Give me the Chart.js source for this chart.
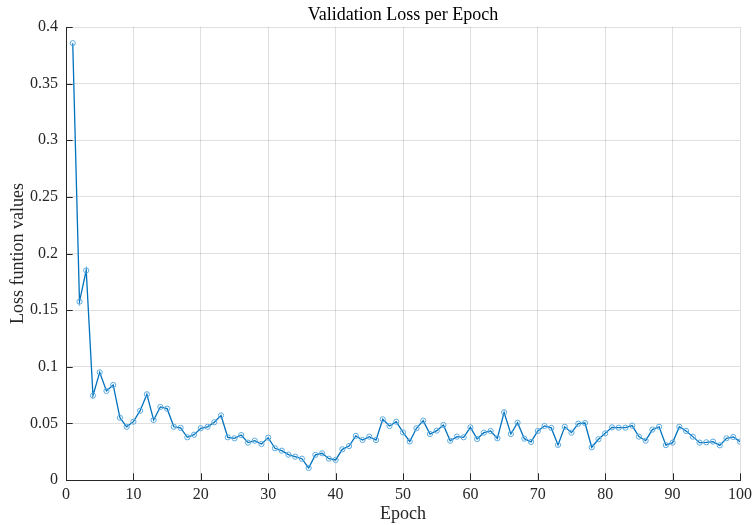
<!DOCTYPE html>
<html>
<head>
<meta charset="utf-8">
<script src="https://cdn.jsdelivr.net/npm/chart.js@4/dist/chart.umd.min.js"></script>
<style>
  html, body { margin: 0; padding: 0; background: #fff; }
  #wrap { width: 753px; height: 525px; }
</style>
</head>
<body>
<div id="wrap"><canvas id="c" width="753" height="525"></canvas></div>
<script>
// Validation loss recorded after each training epoch
const epochs = Array.from({ length: 100 }, (_, i) => i + 1);
const lossValues = [
  0.3857, 0.1575, 0.185, 0.0745, 0.0951, 0.0786, 0.0839, 0.055, 0.047, 0.0515,
  0.0612, 0.0757, 0.053, 0.0645, 0.063, 0.047, 0.046, 0.0377, 0.040, 0.0457,
  0.047, 0.051, 0.057, 0.0377, 0.0368, 0.0397, 0.033, 0.0347, 0.0318, 0.0374,
  0.028, 0.0259, 0.0224, 0.0206, 0.0188, 0.0106, 0.0222, 0.0236, 0.0188, 0.0177,
  0.0271, 0.030, 0.039, 0.0353, 0.0383, 0.0353, 0.0536, 0.0477, 0.0515, 0.042,
  0.034, 0.0457, 0.0524, 0.0406, 0.0436, 0.0486, 0.0347, 0.0383, 0.0377, 0.0465,
  0.0362, 0.0418, 0.0433, 0.0368, 0.0598, 0.0406, 0.0506, 0.0365, 0.0336, 0.0433,
  0.0477, 0.046, 0.031, 0.047, 0.0418, 0.0497, 0.0503, 0.0289, 0.036, 0.0412,
  0.0465, 0.0462, 0.0462, 0.048, 0.0383, 0.0347, 0.0445, 0.047, 0.0308, 0.033,
  0.047, 0.0433, 0.0383, 0.033, 0.0333, 0.0339, 0.0306, 0.0368, 0.038, 0.0339
];
const xTicks = [0, 10, 20, 30, 40, 50, 60, 70, 80, 90, 100];
const yTicks = [0, 0.05, 0.1, 0.15, 0.2, 0.25, 0.3, 0.35, 0.4];

const FONT = "'Liberation Serif', 'DejaVu Serif', serif";
const AXIS = '#262626';
const GRID = 'rgba(38,38,38,0.15)';

// MATLAB-style inward tick marks on the left and bottom axes
const inwardTicks = {
  id: 'inwardTicks',
  afterDatasetsDraw(chart) {
    const { ctx, chartArea, scales } = chart;
    const len = 6.7;
    ctx.save();
    ctx.strokeStyle = AXIS;
    ctx.lineWidth = 1;
    ctx.beginPath();
    scales.x.ticks.forEach(t => {
      const px = Math.round(scales.x.getPixelForValue(t.value)) + 0.5;
      ctx.moveTo(px, chartArea.bottom);
      ctx.lineTo(px, chartArea.bottom - len);
    });
    scales.y.ticks.forEach(t => {
      const py = Math.round(scales.y.getPixelForValue(t.value)) + 0.5;
      ctx.moveTo(chartArea.left, py);
      ctx.lineTo(chartArea.left + len, py);
    });
    ctx.stroke();
    ctx.restore();
  }
};

new Chart(document.getElementById('c'), {
  type: 'line',
  data: {
    datasets: [{
      data: epochs.map((e, i) => ({ x: e, y: lossValues[i] })),
      borderColor: '#0072BD',
      borderWidth: 1.3,
      pointStyle: 'circle',
      pointRadius: 2.6,
      pointBorderWidth: 1,
      pointBorderColor: '#5aa9e0',
      pointBackgroundColor: 'rgba(255,255,255,0)',
      tension: 0
    }]
  },
  options: {
    responsive: false,
    animation: false,
    layout: { padding: { left: 0, right: 13, top: 0, bottom: 0 } },
    plugins: {
      legend: { display: false },
      tooltip: { enabled: false },
      title: {
        display: true,
        fullSize: false,
        text: 'Validation Loss per Epoch',
        color: '#000',
        font: { family: FONT, size: 18, weight: 'normal' },
        padding: { top: 4, bottom: 1.4 }
      }
    },
    scales: {
      x: {
        type: 'linear',
        min: 0,
        max: 100,
        afterBuildTicks(s) { s.ticks = xTicks.map(v => ({ value: v })); },
        afterFit(s) { s.height = 45; s.paddingLeft = 0; s.paddingRight = 0; },
        ticks: {
          color: AXIS,
          font: { family: FONT, size: 16 },
          padding: 5,
          maxRotation: 0,
          callback: v => String(v)
        },
        grid: { color: GRID, drawTicks: false, lineWidth: 1 },
        border: { color: AXIS, width: 1 },
        title: {
          display: true,
          text: 'Epoch',
          color: AXIS,
          font: { family: FONT, size: 18 },
          padding: { top: 0, bottom: 0 }
        }
      },
      y: {
        type: 'linear',
        min: 0,
        max: 0.4,
        afterBuildTicks(s) { s.ticks = yTicks.map(v => ({ value: v })); },
        afterFit(s) { s.width = 66; },
        ticks: {
          color: AXIS,
          font: { family: FONT, size: 16 },
          padding: 8,
          callback: v => String(Math.round(v * 100) / 100)
        },
        grid: { color: GRID, drawTicks: false, lineWidth: 1 },
        border: { color: AXIS, width: 1 },
        title: {
          display: true,
          text: 'Loss funtion values',
          color: AXIS,
          font: { family: FONT, size: 18 },
          padding: { top: 7, bottom: 0 }
        }
      }
    }
  },
  plugins: [inwardTicks]
});
</script>
</body>
</html>
